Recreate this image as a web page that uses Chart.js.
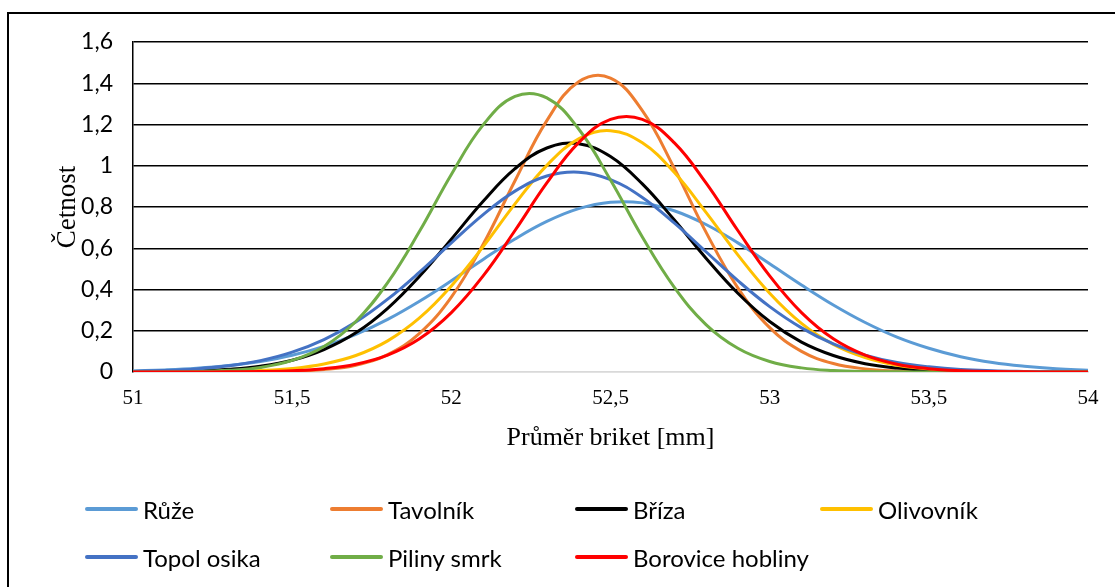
<!DOCTYPE html>
<html>
<head>
<meta charset="utf-8">
<script src="https://cdn.jsdelivr.net/npm/chart.js@4.4.1/dist/chart.umd.min.js"></script>
<style>
html,body{margin:0;padding:0;background:#fff;}
#wrap{position:relative;width:1115px;height:587px;overflow:hidden;background:#fff;}
#frame{position:absolute;left:7px;top:12px;width:1300px;height:800px;border-left:2px solid #000;border-top:2px solid #000;box-sizing:border-box;}
#c{position:absolute;left:0;top:0;}
#legend{position:absolute;left:0;top:0;width:1115px;height:587px;}
.li{position:absolute;display:flex;align-items:center;font-family:Lato,"Noto Sans",sans-serif;font-size:24px;color:#000;white-space:nowrap;}
.sw{width:53px;height:4px;border-radius:2px;margin-right:5px;}
</style>
</head>
<body>
<div id="wrap">
  <canvas id="c" width="1115" height="587"></canvas>
  <div id="frame"></div>
  <div id="legend"></div>
</div>
<script>
// Průměr briket [mm]
const xValues = [51.0,51.1,51.2,51.3,51.4,51.5,51.6,51.7,51.8,51.9,52.0,52.1,52.2,52.3,52.4,52.5,52.6,52.7,52.8,52.9,53.0,53.1,53.2,53.3,53.4,53.5,53.6,53.7,53.8,53.9,54.0];

const seriesNames = ["Růže","Tavolník","Bříza","Olivovník","Topol osika","Piliny smrk","Borovice hobliny"];
const seriesColors = ["#5B9BD5","#ED7D31","#000000","#FFC000","#4472C4","#70AD47","#FF0000"];

const ruze       = [0.005,0.010,0.018,0.031,0.051,0.081,0.124,0.182,0.255,0.343,0.442,0.546,0.645,0.730,0.792,0.823,0.820,0.782,0.715,0.626,0.525,0.422,0.325,0.240,0.169,0.115,0.074,0.046,0.028,0.016,0.009];
const tavolnik   = [0,0,0,0,0.001,0.004,0.012,0.033,0.084,0.187,0.363,0.619,0.927,1.219,1.407,1.425,1.267,0.989,0.678,0.408,0.215,0.100,0.041,0.015,0.005,0.001,0,0,0,0,0];
const briza      = [0.001,0.002,0.005,0.013,0.028,0.057,0.109,0.190,0.309,0.464,0.644,0.828,0.986,1.086,1.107,1.045,0.912,0.738,0.552,0.382,0.245,0.145,0.080,0.040,0.019,0.008,0.003,0.001,0,0,0];
const olivovnik  = [0,0,0.001,0.003,0.007,0.017,0.039,0.080,0.151,0.262,0.417,0.608,0.815,1.002,1.130,1.170,1.111,0.968,0.774,0.568,0.382,0.236,0.134,0.070,0.033,0.015,0.006,0.002,0.001,0,0];
const topolOsika = [0.003,0.007,0.015,0.030,0.055,0.096,0.157,0.242,0.353,0.484,0.626,0.763,0.877,0.950,0.969,0.933,0.846,0.723,0.583,0.443,0.317,0.214,0.136,0.082,0.046,0.025,0.012,0.006,0.003,0.001,0];
const pilinySmrk = [0,0.001,0.002,0.008,0.022,0.056,0.124,0.245,0.433,0.682,0.958,1.198,1.336,1.329,1.178,0.931,0.655,0.412,0.230,0.115,0.051,0.020,0.007,0.002,0.001,0,0,0,0,0,0];
const borovice   = [0,0,0,0.001,0.002,0.006,0.016,0.038,0.082,0.161,0.288,0.466,0.686,0.917,1.112,1.225,1.225,1.112,0.917,0.686,0.466,0.288,0.161,0.082,0.038,0.016,0.006,0.002,0.001,0,0];

const xTickLabels = ["51","51,5","52","52,5","53","53,5","54"];
const yTickLabels = ["0","0,2","0,4","0,6","0,8","1","1,2","1,4","1,6"];

const allSeries = [ruze,tavolnik,briza,olivovnik,topolOsika,pilinySmrk,borovice];

const datasets = allSeries.map((vals,i)=>({
  label: seriesNames[i],
  data: vals.map((v,j)=>({x:xValues[j], y:v})),
  borderColor: seriesColors[i],
  backgroundColor: seriesColors[i],
  borderWidth: 3,
  pointRadius: 0,
  tension: 0.4,
  fill: false,
  order: allSeries.length - i
}));

new Chart(document.getElementById('c'), {
  type: 'line',
  data: { datasets },
  options: {
    responsive: false,
    animation: false,
    events: [],
    layout: { padding: { left: 52, right: 27, top: 42, bottom: 587-372-82 } },
    plugins: { legend: { display: false }, tooltip: { enabled: false } },
    scales: {
      x: {
        type: 'linear', min: 51, max: 54,
        grid: { display: false, drawTicks: false },
        border: { display: true, color: '#d9d9d9', width: 1.5 },
        ticks: {
          stepSize: 0.5, padding: 14, color: '#000', maxRotation: 0,
          font: { family: '"Liberation Serif","DejaVu Serif",serif', size: 21 },
          callback: (v, i) => xTickLabels[i]
        },
        title: {
          display: true, text: 'Průměr briket [mm]', color: '#000',
          font: { family: '"Liberation Serif","DejaVu Serif",serif', size: 26, lineHeight: 1.2 },
          padding: { top: 0, bottom: 0 }
        },
        afterFit: (s) => { s.height = 82; }
      },
      y: {
        min: 0, max: 1.6,
        grid: {
          drawTicks: false,
          color: (ctx) => (ctx.tick && ctx.tick.value === 0) ? '#d9d9d9' : '#000',
          lineWidth: 1.5
        },
        border: { display: true, color: '#000', width: 1.5 },
        ticks: {
          stepSize: 0.2, padding: 20, color: '#000',
          font: { family: 'Lato,"Noto Sans",sans-serif', size: 23 },
          callback: (v, i) => yTickLabels[i]
        },
        title: {
          display: true, text: 'Četnost', color: '#000',
          font: { family: '"Liberation Serif","DejaVu Serif",serif', size: 27, lineHeight: 1.2 },
          padding: { top: 0, bottom: 0 }
        },
        afterFit: (s) => { s.width = 133 - 52; }
      }
    }
  }
});

// HTML legend (4 columns)
const legend = document.getElementById('legend');
seriesNames.forEach((name,i)=>{
  const col = i % 4, row = Math.floor(i / 4);
  const d = document.createElement('div');
  d.className = 'li';
  d.style.left = (85 + col*245) + 'px';
  d.style.top = (509 + row*48 - 15) + 'px';
  d.style.height = '30px';
  const sw = document.createElement('span');
  sw.className = 'sw';
  sw.style.background = seriesColors[i];
  const t = document.createElement('span');
  t.textContent = name;
  d.appendChild(sw); d.appendChild(t);
  legend.appendChild(d);
});
</script>
</body>
</html>
